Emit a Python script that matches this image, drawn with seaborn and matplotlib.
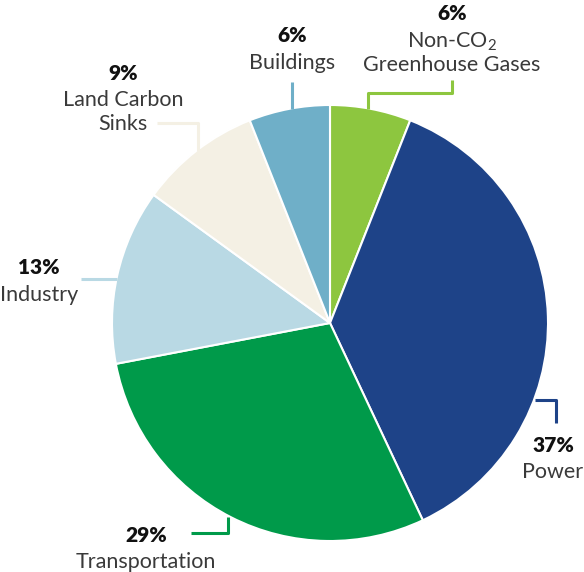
import numpy as np
import matplotlib.pyplot as plt
import seaborn as sns

# data
labels = ["Non-CO$_2$\nGreenhouse Gases", "Power", "Transportation", "Industry",
          "Land Carbon\nSinks", "Buildings"]
shares = [6, 37, 29, 13, 9, 6]
colors = ["#8DC63F", "#1E4388", "#009A4A", "#B9D9E4", "#F4F0E4", "#6FAFC8"]

sns.set_theme(style="white")
plt.rcParams['font.family'] = ['Lato', 'DejaVu Sans']
plt.rcParams['mathtext.fontset'] = 'custom'
plt.rcParams['mathtext.rm'] = 'Lato'

W, H = 584, 572
fig = plt.figure(figsize=(W / 100, H / 100), dpi=100)
ax = fig.add_axes([0, 0, 1, 1])

cx, cy, r = 330, H - 323, 218
wedges, _ = ax.pie(shares, colors=colors, startangle=90, counterclock=False,
                   center=(cx, cy), radius=r, frame=True,
                   wedgeprops=dict(edgecolor="white", linewidth=1.5))
ax.set_xlim(0, W)
ax.set_ylim(0, H)
ax.axis("off")

# label layout (image pixel coords, y downwards): anchor angle offset, route, text pos
layout = [
    dict(off=0, route=[(368, 93), (452, 93), (452, 80)], txt=(452, 14)),
    dict(off=-22, route=[(556, 400), (556, 423)], txt=(553, 445)),
    dict(off=0, route=[(228, 533), (191, 533)], txt=(146, 535)),
    dict(off=0, route=[(81, 279)], txt=(39, 268)),
    dict(off=0, route=[(198, 123), (157, 123)], txt=(123, 73)),
    dict(off=0, route=[(292, 82)], txt=(292, 36)),
]

for w, lab, val, col, lo in zip(wedges, labels, shares, colors, layout):
    ang = np.deg2rad((w.theta1 + w.theta2) / 2 + lo["off"])
    xs = [cx + r * np.cos(ang)]
    ys = [cy + r * np.sin(ang)]
    for px, py in lo["route"]:
        xs.append(px)
        ys.append(H - py)
    # keep first segment straight
    if abs(xs[1] - xs[0]) < abs(ys[1] - ys[0]):
        xs[0] = xs[1]
    else:
        ys[0] = ys[1]
    ax.plot(xs, ys, color=col, lw=2.2, solid_capstyle="butt", zorder=1)
    tx, ty = lo["txt"]
    ax.text(tx, H - ty, f"{val}%", ha="center", va="center", fontsize=15,
            fontweight="heavy", color="#111111")
    for i, line in enumerate(lab.split("\n")):
        ax.text(tx, H - ty - 25 - 24 * i, line, ha="center", va="center_baseline",
                fontsize=15.5, color="#3a3a3a")

fig.savefig("out.png", dpi=100)
